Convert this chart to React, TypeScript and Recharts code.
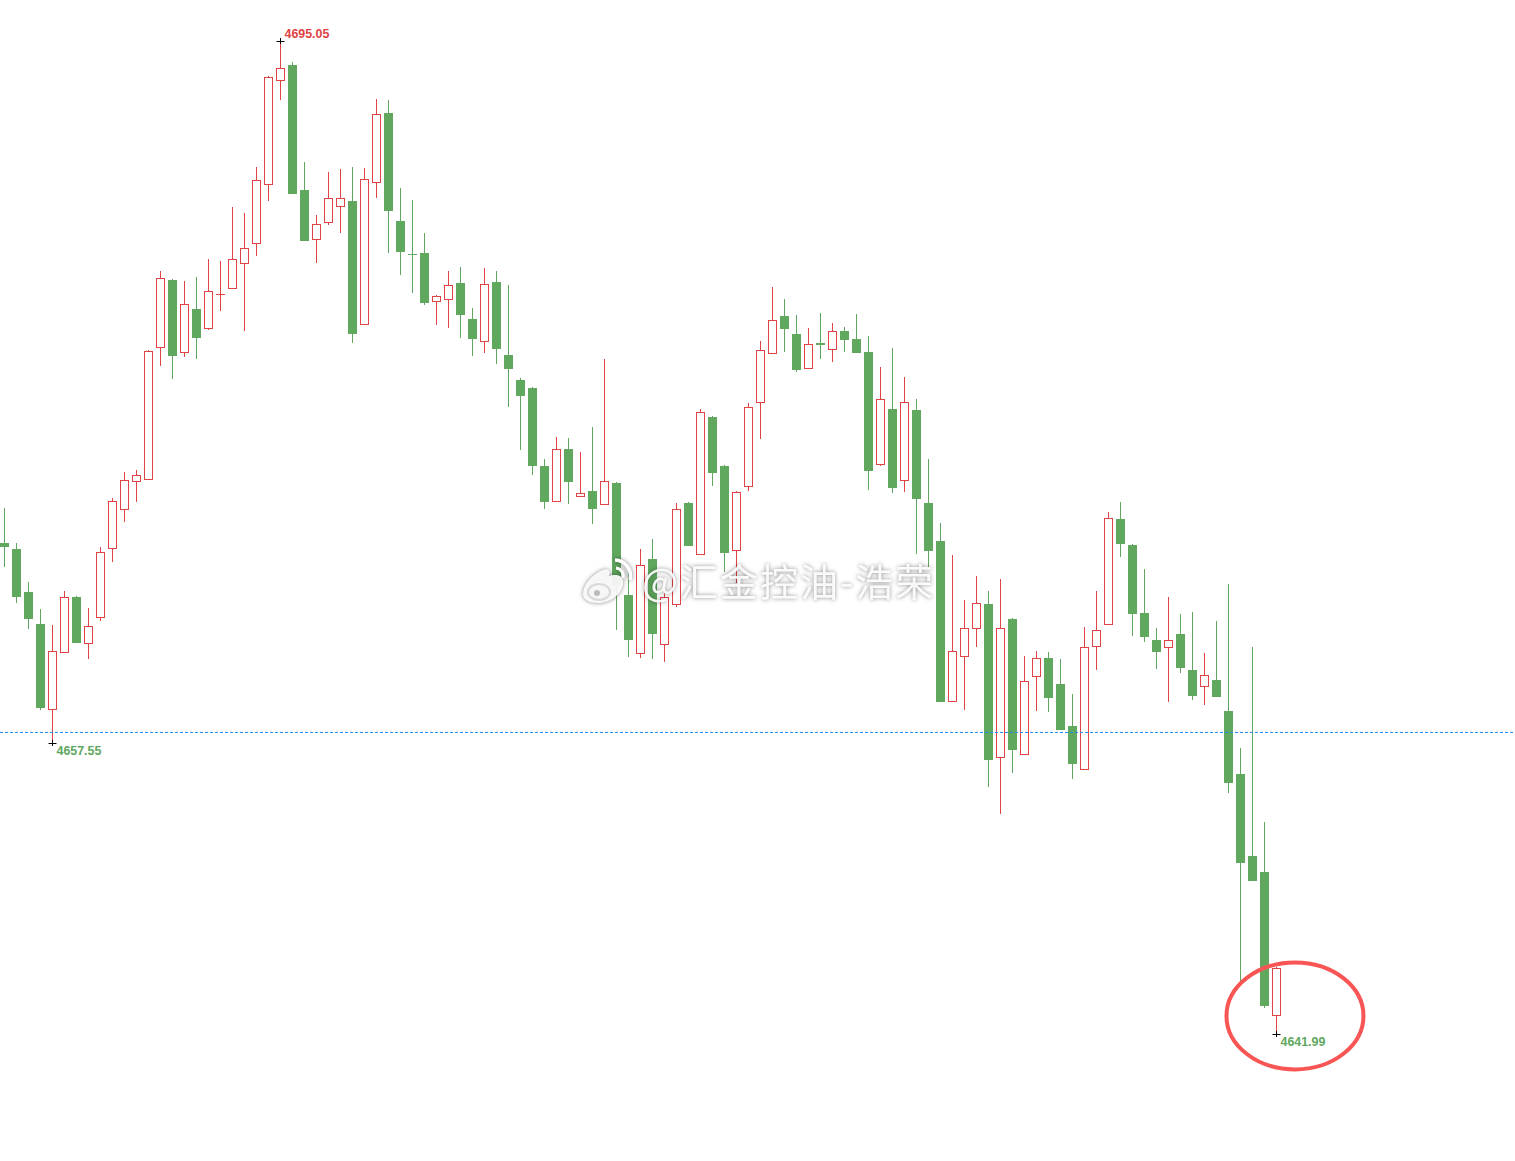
import { Bar, ComposedChart, ReferenceDot, ReferenceLine, XAxis, YAxis } from 'recharts';

const opens = [
  4668.23, 4667.91, 4665.61, 4663.90, 4659.37, 4662.42, 4665.34, 4662.87, 4664.29, 4667.94,
  4670.03, 4671.52, 4671.63, 4678.68, 4682.28, 4678.42, 4680.73, 4679.70, 4681.51, 4681.84,
  4683.17, 4684.24, 4687.39, 4692.95, 4693.77, 4687.09, 4684.45, 4685.36, 4686.22, 4686.50,
  4679.94, 4687.50, 4691.20, 4685.43, 4683.67, 4683.72, 4681.14, 4681.25, 4682.12, 4680.19,
  4679.00, 4682.17, 4678.27, 4676.94, 4676.51, 4672.34, 4670.45, 4673.25, 4670.75, 4671.00,
  4670.29, 4671.43, 4665.45, 4662.33, 4667.37, 4662.81, 4664.95, 4670.36, 4667.62, 4674.96,
  4672.34, 4667.84, 4671.26, 4675.74, 4678.36, 4680.36, 4679.39, 4677.59, 4678.91, 4678.58,
  4679.55, 4679.13, 4678.43, 4672.43, 4675.39, 4671.58, 4675.33, 4670.36, 4668.33, 4659.77,
  4662.17, 4663.67, 4664.97, 4656.78, 4664.16, 4656.94, 4661.10, 4662.08, 4660.69, 4658.45,
  4656.13, 4662.71, 4663.88, 4669.51, 4668.12, 4664.49, 4663.04, 4662.65, 4663.36, 4661.44,
  4660.57, 4660.91, 4659.25, 4655.88, 4651.50, 4650.65, 4642.99,
];
const closes = [
  4668.03, 4665.36, 4664.18, 4659.43, 4662.44, 4665.32, 4662.90, 4663.78, 4667.73, 4670.45,
  4671.58, 4671.84, 4678.47, 4682.37, 4678.23, 4680.98, 4679.20, 4681.67, 4681.51, 4683.38,
  4683.97, 4687.61, 4693.11, 4693.59, 4686.89, 4684.38, 4685.25, 4686.64, 4686.64, 4679.41,
  4687.66, 4691.13, 4685.98, 4683.79, 4683.63, 4681.07, 4681.41, 4682.00, 4680.42, 4679.14,
  4682.05, 4678.61, 4677.54, 4676.10, 4672.36, 4670.43, 4673.23, 4671.50, 4670.88, 4670.06,
  4671.52, 4666.00, 4663.06, 4667.03, 4663.38, 4665.32, 4670.03, 4668.08, 4675.21, 4671.98,
  4667.71, 4670.94, 4675.48, 4678.52, 4680.13, 4679.68, 4677.49, 4678.84, 4678.82, 4679.54,
  4679.09, 4678.39, 4672.09, 4675.90, 4671.18, 4675.74, 4670.59, 4667.81, 4659.75, 4662.44,
  4663.67, 4665.00, 4656.65, 4663.67, 4657.18, 4660.84, 4662.06, 4659.96, 4658.25, 4656.43,
  4662.65, 4663.56, 4669.55, 4668.19, 4664.45, 4663.22, 4662.42, 4663.03, 4661.56, 4660.07,
  4661.16, 4660.01, 4655.42, 4651.14, 4650.18, 4643.50, 4645.50,
];
const highs = [
  4670.10, 4668.21, 4666.14, 4664.70, 4663.84, 4665.66, 4665.39, 4664.75, 4668.00, 4670.63,
  4672.00, 4672.13, 4678.54, 4682.76, 4682.33, 4682.23, 4682.44, 4683.40, 4683.29, 4686.18,
  4685.86, 4688.32, 4693.18, 4695.05, 4693.93, 4688.57, 4685.75, 4688.05, 4688.21, 4688.32,
  4688.26, 4691.95, 4691.90, 4687.19, 4686.55, 4684.79, 4681.48, 4682.76, 4682.97, 4680.78,
  4682.92, 4682.76, 4682.01, 4677.04, 4676.56, 4672.71, 4673.89, 4673.84, 4673.09, 4674.42,
  4678.06, 4671.49, 4666.89, 4667.91, 4668.44, 4665.55, 4670.36, 4670.42, 4675.39, 4675.01,
  4672.39, 4671.00, 4675.71, 4679.02, 4681.90, 4681.26, 4680.41, 4679.71, 4680.52, 4679.98,
  4679.77, 4680.46, 4679.29, 4677.63, 4678.65, 4677.10, 4675.92, 4672.71, 4669.29, 4667.58,
  4665.18, 4666.46, 4665.66, 4666.30, 4664.22, 4662.19, 4662.45, 4662.40, 4662.03, 4660.16,
  4663.74, 4665.66, 4669.88, 4670.42, 4668.17, 4666.84, 4663.68, 4665.34, 4664.43, 4664.54,
  4662.35, 4664.06, 4666.04, 4657.27, 4662.67, 4653.32, 4645.57,
];
const lows = [
  4666.96, 4665.04, 4663.65, 4659.30, 4657.55, 4662.42, 4662.90, 4662.04, 4664.07, 4667.23,
  4669.36, 4670.43, 4671.63, 4677.68, 4677.00, 4678.18, 4678.07, 4679.61, 4680.64, 4681.84,
  4679.57, 4683.58, 4686.52, 4691.91, 4686.89, 4684.38, 4683.20, 4685.23, 4684.81, 4678.93,
  4679.94, 4686.68, 4683.74, 4682.56, 4681.60, 4680.96, 4679.89, 4679.73, 4679.20, 4678.23,
  4678.39, 4677.81, 4675.51, 4673.21, 4671.88, 4670.06, 4670.45, 4670.33, 4670.75, 4669.26,
  4670.29, 4663.59, 4662.15, 4662.10, 4662.04, 4661.88, 4664.82, 4668.08, 4667.62, 4671.29,
  4666.69, 4666.09, 4671.02, 4673.80, 4678.36, 4678.45, 4677.38, 4677.59, 4678.07, 4677.91,
  4678.45, 4678.39, 4671.07, 4672.36, 4670.91, 4670.97, 4667.65, 4666.96, 4659.75, 4659.77,
  4659.32, 4662.69, 4655.20, 4653.76, 4655.95, 4656.94, 4659.27, 4659.21, 4658.25, 4655.63,
  4656.13, 4661.46, 4663.88, 4667.49, 4663.27, 4662.95, 4661.51, 4659.75, 4661.30, 4659.85,
  4659.59, 4660.01, 4654.88, 4644.61, 4650.18, 4643.40, 4641.99,
];

const currentPrice = 4658.1;
const highMarks = [23];
const lowMarks = [4, 106];

const RED = '#e04343';
const GREEN = '#60a85e';

const candles = opens.map((open, i) => ({
  i,
  open,
  close: closes[i],
  high: highs[i],
  low: lows[i],
  range: [lows[i], highs[i]],
}));

function Candle(props: any) {
  const { x, y, width, height, payload } = props;
  const { open, close, high, low, i } = payload;
  const up = close >= open;
  const color = up ? RED : GREEN;
  const perUnit = Math.abs(height) / (high - low);
  const center = Math.floor(x + width / 2) + 0.5;
  const top = Math.min(y, y + height);
  const toY = (v: number) => top + (high - v) * perUnit;
  const wickTop = Math.round(top);
  const wickBottom = Math.round(top + Math.abs(height));
  const bodyTop = Math.round(toY(Math.max(open, close)));
  const bodyBottom = Math.round(toY(Math.min(open, close)));
  const isHigh = highMarks.includes(i);
  const isLow = lowMarks.includes(i);

  let body;
  if (open === close) {
    // doji, only a dash
    body = <line x1={center - 4.5} x2={center + 4.5} y1={bodyTop + 0.5} y2={bodyTop + 0.5} stroke={color} />;
  } else if (up) {
    body = (
      <rect
        x={center - 4}
        y={bodyTop + 0.5}
        width={8}
        height={Math.max(bodyBottom - bodyTop, 1)}
        fill="#fff"
        stroke={color}
      />
    );
  } else {
    body = (
      <rect
        x={center - 4.5}
        y={bodyTop}
        width={9}
        height={Math.max(bodyBottom - bodyTop, 1)}
        fill={color}
      />
    );
  }

  return (
    <g>
      <line x1={center} x2={center} y1={wickTop} y2={wickBottom} stroke={color} />
      {body}
      {isHigh && (
        <g>
          <path d={`M${center - 4} ${wickTop + 0.5}H${center + 4}M${center} ${wickTop - 3}V${wickTop + 3}`} stroke="#000" fill="none" />
          <text x={center + 4} y={wickTop - 3} fill={RED} fontSize={12.4} fontWeight="bold" fontFamily="Liberation Sans">
            {high.toFixed(2)}
          </text>
        </g>
      )}
      {isLow && (
        <g>
          <path d={`M${center - 4} ${wickBottom + 0.5}H${center + 4}M${center} ${wickBottom - 3}V${wickBottom + 3}`} stroke="#000" fill="none" />
          <text x={center + 4} y={wickBottom + 12} fill={GREEN} fontSize={12.4} fontWeight="bold" fontFamily="Liberation Sans">
            {low.toFixed(2)}
          </text>
        </g>
      )}
    </g>
  );
}

// hand drawn circle round the last candle
function CircleNote(props: any) {
  return <ellipse cx={props.cx} cy={props.cy} rx={68.5} ry={53.5} fill="none" stroke="#f85555" strokeWidth={4} />;
}

function Watermark() {
  const shadow = 'drop-shadow(0 0 2px rgba(0,0,0,0.5))';
  return (
    <div style={{ position: 'absolute', left: 0, top: 0, width: 1515, height: 1161, pointerEvents: 'none' }}>
      <svg width={60} height={56} style={{ position: 'absolute', left: 577, top: 554, filter: shadow }}>
        <path
          d="M6 40c0-9 9-20 20-24 5-2 8 1 6 6 5-2 14-2 14 6 0 12-13 21-25 21C13 49 6 46 6 40z"
          fill="#fff"
          fillOpacity={0.92}
        />
        <ellipse cx={22} cy={38} rx={11} ry={8} fill="none" stroke="#d8d8d8" strokeWidth={2} />
        <circle cx={20} cy={39} r={3} fill="#bbb" />
        <path d="M38 6a16 16 0 0 1 15 20" fill="none" stroke="#fff" strokeWidth={3.5} />
        <path d="M39 14a8 8 0 0 1 7 10" fill="none" stroke="#fff" strokeWidth={3} />
      </svg>
      <div
        style={{
          position: 'absolute',
          left: 642,
          top: 553,
          fontFamily: '"Noto Sans CJK SC"',
          fontSize: 38,
          letterSpacing: 2,
          lineHeight: '54px',
          color: 'rgba(255,255,255,0.92)',
          whiteSpace: 'nowrap',
          filter: shadow,
        }}
      >
        @汇金控油-浩荣
      </div>
    </div>
  );
}

export default function App() {
  return (
    <div style={{ position: 'absolute', left: 0, top: 0, width: 1515, height: 1161, background: '#fff' }}>
      <ComposedChart width={1515} height={1161} data={candles} margin={{ top: 0, right: 0, bottom: 0, left: 0 }}>
        <XAxis dataKey="i" type="number" domain={[-0.375, 125.875]} hide allowDataOverflow />
        <YAxis type="number" domain={[4635.2, 4697.24]} hide allowDataOverflow />
        <ReferenceLine y={currentPrice} stroke="#1e8cf0" strokeDasharray="3 2" />
        <Bar dataKey="range" barSize={9} shape={Candle} isAnimationActive={false} />
        <ReferenceDot x={107.54} y={4642.95} shape={CircleNote} />
      </ComposedChart>
      <Watermark />
    </div>
  );
}
